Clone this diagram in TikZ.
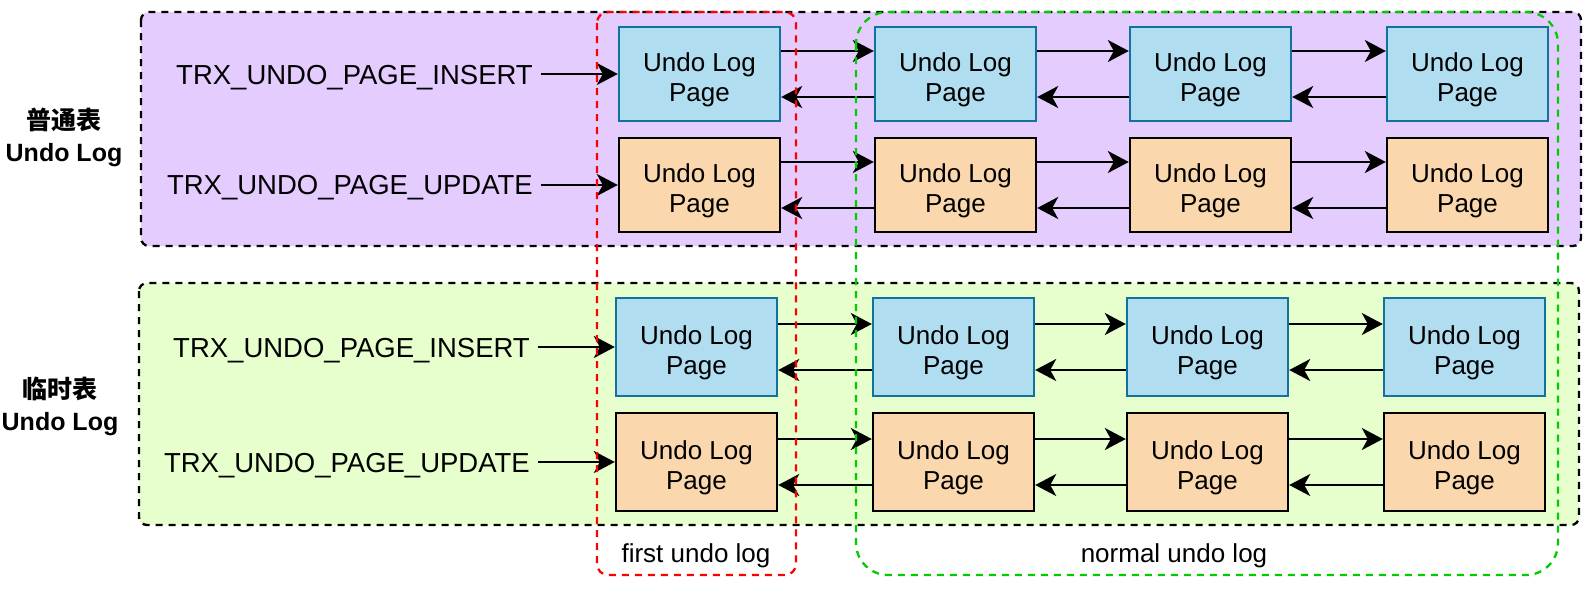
\documentclass[tikz,border=0pt]{standalone}
\usepackage{fontspec}
\setmainfont{Liberation Sans}
\newfontfamily\cjk{Noto Sans CJK SC}
\usetikzlibrary{arrows.meta}
\definecolor{purpbg}{HTML}{E5CCFF}
\definecolor{greenbg}{HTML}{E6FFCC}
\definecolor{blueF}{HTML}{B1DDF0}
\definecolor{blueS}{HTML}{10739E}
\definecolor{orangeF}{HTML}{FAD7AC}
\definecolor{redD}{HTML}{FF0000}
\definecolor{greenD}{HTML}{00CC00}
\newcommand{\ulpage}{\rule{0pt}{31pt}Undo Log\\Page}
\begin{document}
\begin{tikzpicture}[x=1pt,y=-1pt,
  dashline/.style={line width=2.3pt, dash pattern=on 7pt off 6pt},
  section/.style={dashline, draw=black, rounded corners=8pt},
  pagebox/.style={line width=2.4pt, minimum width=161pt, minimum height=94pt, inner sep=0pt, align=center, font=\fontsize{26}{30}\selectfont},
  ins/.style={pagebox, fill=blueF, draw=blueS},
  upd/.style={pagebox, fill=orangeF, draw=black},
  lbl/.style={anchor=east, inner sep=0pt, font=\fontsize{27.5}{33}\selectfont},
  title/.style={align=center, inner sep=0pt, font=\fontsize{25}{32}\selectfont\bfseries},
  captext/.style={inner sep=0pt, font=\fontsize{26}{30}\selectfont},
  arr/.style={line width=2.4pt, -{Stealth[length=21pt,width=22pt,inset=6pt]}}
]
\useasboundingbox (0,0) rectangle (1592,592);

% section backgrounds
\draw[section, fill=purpbg] (141,12) rectangle (1581,246);
\draw[section, fill=greenbg] (139,283) rectangle (1579,525);

% titles
\node[title] (t1) at (64,137) {{\cjk 普通表}\\Undo Log};
\node[title] (t2) at (60,406) {{\cjk 临时表}\\Undo Log};

% labels
\node[lbl] (l1) at (533,78) {TRX\_UNDO\_PAGE\_INSERT};
\node[lbl] (l2) at (533,188) {TRX\_UNDO\_PAGE\_UPDATE};
\node[lbl] (l3) at (530,351) {TRX\_UNDO\_PAGE\_INSERT};
\node[lbl] (l4) at (530,466) {TRX\_UNDO\_PAGE\_UPDATE};

% top section pages
\node[ins] (a1) at (699.5,74) {\ulpage};
\node[ins] (a2) at (955.5,74) {\ulpage};
\node[ins] (a3) at (1210.5,74) {\ulpage};
\node[ins] (a4) at (1467.5,74) {\ulpage};
\node[upd] (b1) at (699.5,185) {\ulpage};
\node[upd] (b2) at (955.5,185) {\ulpage};
\node[upd] (b3) at (1210.5,185) {\ulpage};
\node[upd] (b4) at (1467.5,185) {\ulpage};

% bottom section pages
\node[ins, minimum height=98pt] (c1) at (696.5,347) {\ulpage};
\node[ins, minimum height=98pt] (c2) at (953.5,347) {\ulpage};
\node[ins, minimum height=98pt] (c3) at (1207.5,347) {\ulpage};
\node[ins, minimum height=98pt] (c4) at (1464.5,347) {\ulpage};
\node[upd, minimum height=98pt] (d1) at (696.5,462) {\ulpage};
\node[upd, minimum height=98pt] (d2) at (953.5,462) {\ulpage};
\node[upd, minimum height=98pt] (d3) at (1207.5,462) {\ulpage};
\node[upd, minimum height=98pt] (d4) at (1464.5,462) {\ulpage};

% entry arrows
\draw[arr] ([xshift=8pt]l1.east |- a1.west) -- (a1.west);
\draw[arr] ([xshift=8pt]l2.east |- b1.west) -- (b1.west);
\draw[arr] ([xshift=8pt]l3.east |- c1.west) -- (c1.west);
\draw[arr] ([xshift=8pt]l4.east |- d1.west) -- (d1.west);

% chains
\foreach \r in {a,b,c,d}{
  \foreach \i/\j in {1/2,2/3,3/4}{
    \draw[arr] ([yshift=23pt]\r\i.east) -- ([yshift=23pt]\r\j.west);
    \draw[arr] ([yshift=-23pt]\r\j.west) -- ([yshift=-23pt]\r\i.east);
  }
}

% grouping frames
\draw[dashline, draw=redD, rounded corners=11pt] (597,12) rectangle (796,575);
\draw[dashline, draw=greenD, rounded corners=32pt] (856,12) rectangle (1558,575);

% captions
\node[captext] (f) at (696,556) {first undo log};
\node[captext] (n) at (1174,556) {normal undo log};
\end{tikzpicture}
\end{document}
